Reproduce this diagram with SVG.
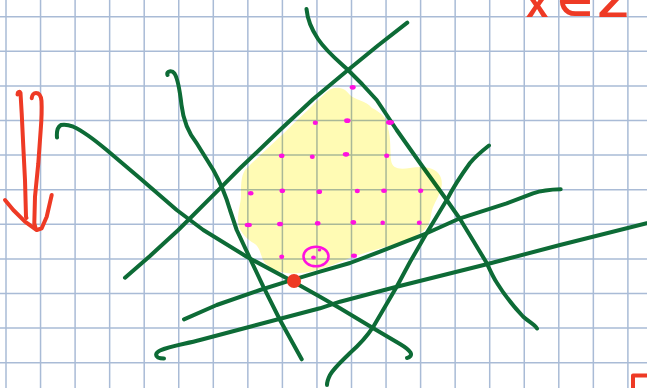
<svg xmlns="http://www.w3.org/2000/svg" width="647" height="388" viewBox="0 0 647 388">
<style>
.grid line{stroke:#a9bbd6;stroke-width:1.5}
.g{fill:none;stroke:#0d6b36;stroke-width:4;stroke-linecap:round;stroke-linejoin:round}
.r{fill:none;stroke:#ee3a25;stroke-width:4;stroke-linecap:round;stroke-linejoin:round}
.m{fill:#ff10e0}
.t{font-family:"Liberation Sans","DejaVu Sans",sans-serif;font-size:40px;font-weight:bold;fill:#ee3a25}
</style>
<rect width="647" height="388" fill="#ffffff"/>
<g class="grid" id="grid">
<line x1="6" y1="0" x2="6" y2="388"/><line x1="40.55" y1="0" x2="40.55" y2="388"/><line x1="75.1" y1="0" x2="75.1" y2="388"/><line x1="109.65" y1="0" x2="109.65" y2="388"/><line x1="144.2" y1="0" x2="144.2" y2="388"/><line x1="178.75" y1="0" x2="178.75" y2="388"/><line x1="213.3" y1="0" x2="213.3" y2="388"/><line x1="247.85" y1="0" x2="247.85" y2="388"/><line x1="282.4" y1="0" x2="282.4" y2="388"/><line x1="316.95" y1="0" x2="316.95" y2="388"/><line x1="351.5" y1="0" x2="351.5" y2="388"/><line x1="386.05" y1="0" x2="386.05" y2="388"/><line x1="420.6" y1="0" x2="420.6" y2="388"/><line x1="455.15" y1="0" x2="455.15" y2="388"/><line x1="489.7" y1="0" x2="489.7" y2="388"/><line x1="524.25" y1="0" x2="524.25" y2="388"/><line x1="558.8" y1="0" x2="558.8" y2="388"/><line x1="593.35" y1="0" x2="593.35" y2="388"/><line x1="627.9" y1="0" x2="627.9" y2="388"/>
<line x1="0" y1="16.7" x2="647" y2="16.7"/><line x1="0" y1="51.3" x2="647" y2="51.3"/><line x1="0" y1="85.9" x2="647" y2="85.9"/><line x1="0" y1="120.5" x2="647" y2="120.5"/><line x1="0" y1="155.1" x2="647" y2="155.1"/><line x1="0" y1="189.7" x2="647" y2="189.7"/><line x1="0" y1="224.3" x2="647" y2="224.3"/><line x1="0" y1="258.9" x2="647" y2="258.9"/><line x1="0" y1="293.5" x2="647" y2="293.5"/><line x1="0" y1="328.1" x2="647" y2="328.1"/><line x1="0" y1="362.7" x2="647" y2="362.7"/>
</g>
<g id="connectors">
<path class="g" d="M306.5,9 C307.5,20 312,30 318,39 C326,51 337,60 348,70 L362,84 L376.7,100 L396.7,130 L420,163 L446.7,200 L460,219 L474,242 L486.7,263 C490,270 493,277 497,283 C505,296 515,308 523,316.5 C529,322 534,324 537,328.5"/>
<path class="g" d="M407.3,22.7 L378,45.5 L348,70 L313,99.3 L280,130 L240,168.3 L220,188.3 L178.3,230 L150,256 L125,277.7"/>
<path class="g" d="M489,145.5 C482,151 475,157 470,163 C462,174 454,186 446.7,200 L426.7,233 L410,262 L396.7,286.7 L373.3,326.7 C366,338 358,346 350,353 C342,361 334,368 330,375 C328,379 327,382 327,385"/>
<path class="g" d="M560.7,189.3 C550,189.5 540,191 533,193.3 L506.7,203.3 L460,218.3 L426.7,233.3 L380,251.7 L350,263 L320,271.7 L286.7,281.7 L260,290 L216.7,305 L184,319.3"/>
<path class="g" d="M646.7,223.3 L560,245 L486.7,264.3 L396.7,286.7 L340,301.7 L320,308.3 L250,326.7 L200,340 C185,344 170,346 160,350.5 C155,353 155.5,356 158,357.5 C160,358.5 162,358.5 164,358.5"/>
<path class="g" d="M57,137.5 C56.5,132 57.5,127 61,125 C65,124 69,125 73.3,126.7 C85,132 96,141 106.7,150 L140,178.3 L176.7,210 L203.3,230 L246.7,256.7 L293.3,281.7 L320,296.7 L340,308.3 L373.3,328.3 L400,344 C405,347 409,350 410.5,352.5 C412,355 410,357.5 407,358"/>
<path class="g" d="M167.5,75 C166,71 172,70 174.5,73.5 C178,79 180,92 181.5,105 C183,118 187,131 196.7,143.3 L213.3,170 C220,182 226,196 230,210 L236.7,230 L250,258.3 L263.3,286.7 L280,320 L301.7,359.3"/>
</g>
<g id="region">
<path style="mix-blend-mode:multiply" fill="#fffbb4" d="M331,89 C338,86 345,88 350,95 C355,100 365,100 372,108 C380,112 388,118 388,128 C391,138 390,150 391,160 C392,168 398,170 410,168 C425,165 438,168 441,178 C444,188 438,196 434,205 C430,212 432,222 426,228 C420,236 400,243 385,247 C370,251 355,256 345,260 C330,266 315,272 300,273 C285,275 272,270 266,264 C260,258 262,250 255,244 C245,238 238,230 238,220 C238,210 241,203 241,195 C241,185 241,176 245,170 C255,160 270,146 283,134 C295,122 305,113 315,103 C321,97 326,92 331,89 Z"/>
</g>
<g id="lattice-points">
<ellipse class="m" cx="352.7" cy="87.3" rx="3" ry="2.4"/>
<ellipse class="m" cx="315.3" cy="122.7" rx="2.6" ry="2.2"/>
<ellipse class="m" cx="347.3" cy="120.7" rx="3.2" ry="2.4"/>
<ellipse class="m" cx="390" cy="122.5" rx="4" ry="2.4"/>
<ellipse class="m" cx="281.7" cy="155.7" rx="2.8" ry="2.3"/>
<ellipse class="m" cx="312.3" cy="156.7" rx="2.5" ry="2.2"/>
<ellipse class="m" cx="346" cy="154.3" rx="3.2" ry="2.4"/>
<ellipse class="m" cx="386.7" cy="155.7" rx="2.6" ry="2.2"/>
<ellipse class="m" cx="250.7" cy="193.3" rx="2.8" ry="2.2"/>
<ellipse class="m" cx="282.3" cy="190.7" rx="2.8" ry="2.3"/>
<ellipse class="m" cx="319.3" cy="191.7" rx="2.8" ry="2.3"/>
<ellipse class="m" cx="357.3" cy="191" rx="2.6" ry="2.2"/>
<ellipse class="m" cx="384" cy="190.7" rx="2.8" ry="2.2"/>
<ellipse class="m" cx="420.7" cy="190.7" rx="2.6" ry="2.3"/>
<ellipse class="m" cx="248.3" cy="225" rx="3.6" ry="2.2"/>
<ellipse class="m" cx="280" cy="224" rx="3" ry="2.3"/>
<ellipse class="m" cx="317.7" cy="223.3" rx="2.8" ry="2.3"/>
<ellipse class="m" cx="353.3" cy="222.3" rx="2.8" ry="2.4"/>
<ellipse class="m" cx="382.7" cy="222.7" rx="2.3" ry="2.3"/>
<ellipse class="m" cx="419.3" cy="222.7" rx="2.5" ry="2.3"/>
<ellipse class="m" cx="281.7" cy="256.7" rx="2.5" ry="2.2"/>
<ellipse class="m" cx="354" cy="255.7" rx="3" ry="2.2"/>
<ellipse cx="316" cy="256.5" rx="12.5" ry="9.8" fill="none" stroke="#ff10e0" stroke-width="2.6"/>
<ellipse class="m" cx="313.5" cy="257.5" rx="2.4" ry="2"/>
<ellipse class="m" cx="319.5" cy="250" rx="1.8" ry="1.5"/>
</g>
<g id="vertex">
<circle cx="294" cy="281" r="7" fill="#ee3a24"/>
</g>
<g id="arrow">
<path class="r" d="M17.5,94.5 C17.5,92 19.5,91 20.5,93 L21.7,113.3 L23.3,146.7 L25,180 L26,216.7 L26.5,218"/>
<path class="r" d="M31.7,98.3 C32,95 34,93 36,93 C39,93 41,96 41.5,101 C42,110 41.5,120 40.7,130 L38.3,163.3 L35,196.7 L34.3,223.3 L35.5,228"/>
<path class="r" d="M5,200 L13.3,210 L25,221.7 L36.7,230 L41.7,228.3 L46.7,216.7 L51.7,195"/>
</g>
<g id="label">
<text class="t" x="526" y="16.5">x</text>
<text class="t" x="557" y="16">∈</text>
<text class="t" x="598" y="16.5" textLength="30" lengthAdjust="spacingAndGlyphs">Z</text>
</g>
<path class="r" d="M647,375.5 L633,375.5 L633,390"/>
</svg>
